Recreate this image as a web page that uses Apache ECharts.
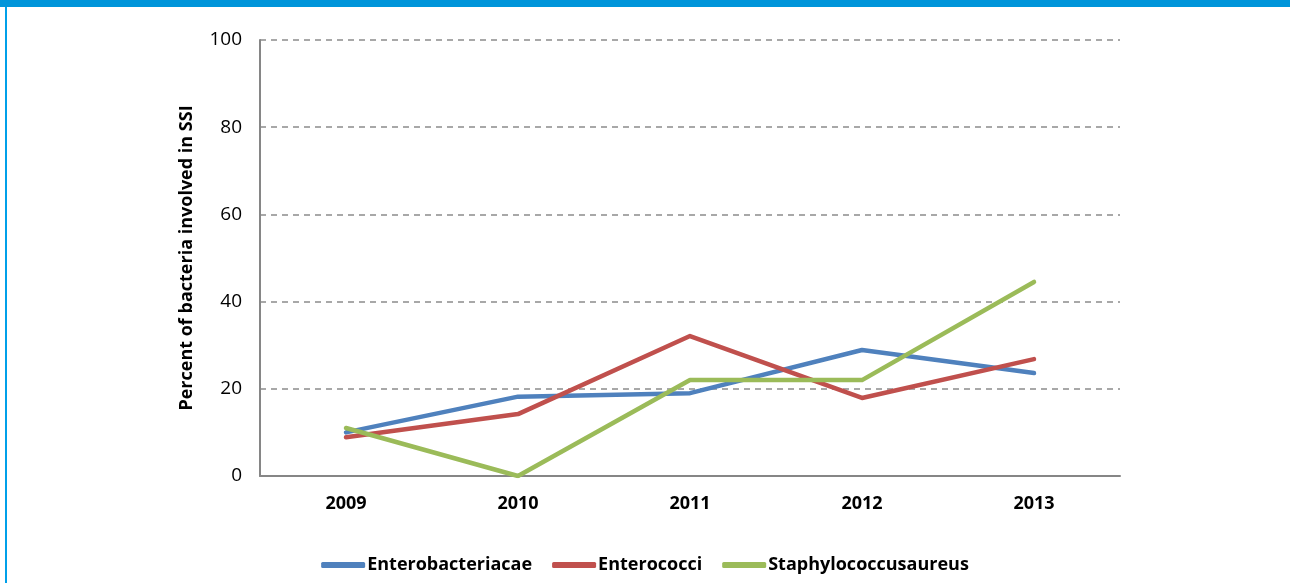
<!DOCTYPE html>
<html>
<head>
<meta charset="utf-8">
<script src="https://cdn.jsdelivr.net/npm/echarts@6/dist/echarts.min.js"></script>
<style>
html,body{margin:0;padding:0;background:#fff;}
#frame{position:absolute;left:0;top:0;width:1290px;height:583px;}
#topband{position:absolute;left:0;top:0;width:1290px;height:7px;background:#0095DA;}
#leftline{position:absolute;left:5px;top:7px;width:2px;height:576px;background:#00A0E9;}
#chart{position:absolute;left:0;top:0;width:1290px;height:583px;}
</style>
</head>
<body>
<div id="frame">
<div id="chart"></div>
<div id="topband"></div>
<div id="leftline"></div>
</div>
<script>
const categories = ['2009', '2010', '2011', '2012', '2013'];
const enterobacteriaceae = [10.0, 18.2, 19.0, 28.9, 23.6];
const enterococci = [8.9, 14.2, 32.1, 17.9, 26.8];
const staphylococcus = [11.0, 0.0, 22.0, 22.0, 44.5];
const seriesNames = ['Enterobacteriacae', 'Enterococci', 'Staphylococcusaureus'];
const yAxisTitle = 'Percent of bacteria involved in SSI';

const FONT = "'Open Sans', sans-serif";
const colors = ['#4F81BD', '#C0504D', '#9BBB59'];
const chart = echarts.init(document.getElementById('chart'));
const mk = (name, data, c) => ({
  name, type: 'line', data, symbol: 'none', smooth: false,
  lineStyle: {width: 4.5, color: c, cap: 'round', join: 'round'},
  itemStyle: {color: c}
});
chart.setOption({
  animation: false,
  backgroundColor: '#fff',
  grid: {left: 260, right: 170, top: 40, bottom: 107, containLabel: false},
  legend: {
    bottom: 4, left: 'center',
    itemWidth: 44, itemHeight: 6, itemGap: 20,
    icon: 'roundRect',
    textStyle: {fontFamily: FONT, fontSize: 18, fontWeight: 'bold', color: '#000', padding: [0,0,0,-3]},
    data: seriesNames
  },
  xAxis: {
    type: 'category', data: categories, boundaryGap: true,
    axisLine: {lineStyle: {color: '#868686', width: 2}},
    axisTick: {show: false},
    axisLabel: {fontFamily: FONT, fontSize: 18, fontWeight: 'bold', color: '#000', margin: 19}
  },
  yAxis: {
    type: 'value', min: 0, max: 100, interval: 20,
    name: yAxisTitle, nameLocation: 'middle', nameGap: 64, nameRotate: 90,
    nameTextStyle: {fontFamily: FONT, fontSize: 18, fontWeight: 'bold', color: '#000'},
    axisLine: {show: true, lineStyle: {color: '#868686', width: 2}},
    axisTick: {show: false},
    axisLabel: {fontFamily: FONT, fontSize: 19, color: '#000', margin: 18},
    splitLine: {show: true, lineStyle: {color: '#8c8c8c', type: [6, 5], width: 1.5}}
  },
  series: [
    mk(seriesNames[0], enterobacteriaceae, colors[0]),
    mk(seriesNames[1], enterococci, colors[1]),
    mk(seriesNames[2], staphylococcus, colors[2])
  ]
});
</script>
</body>
</html>
